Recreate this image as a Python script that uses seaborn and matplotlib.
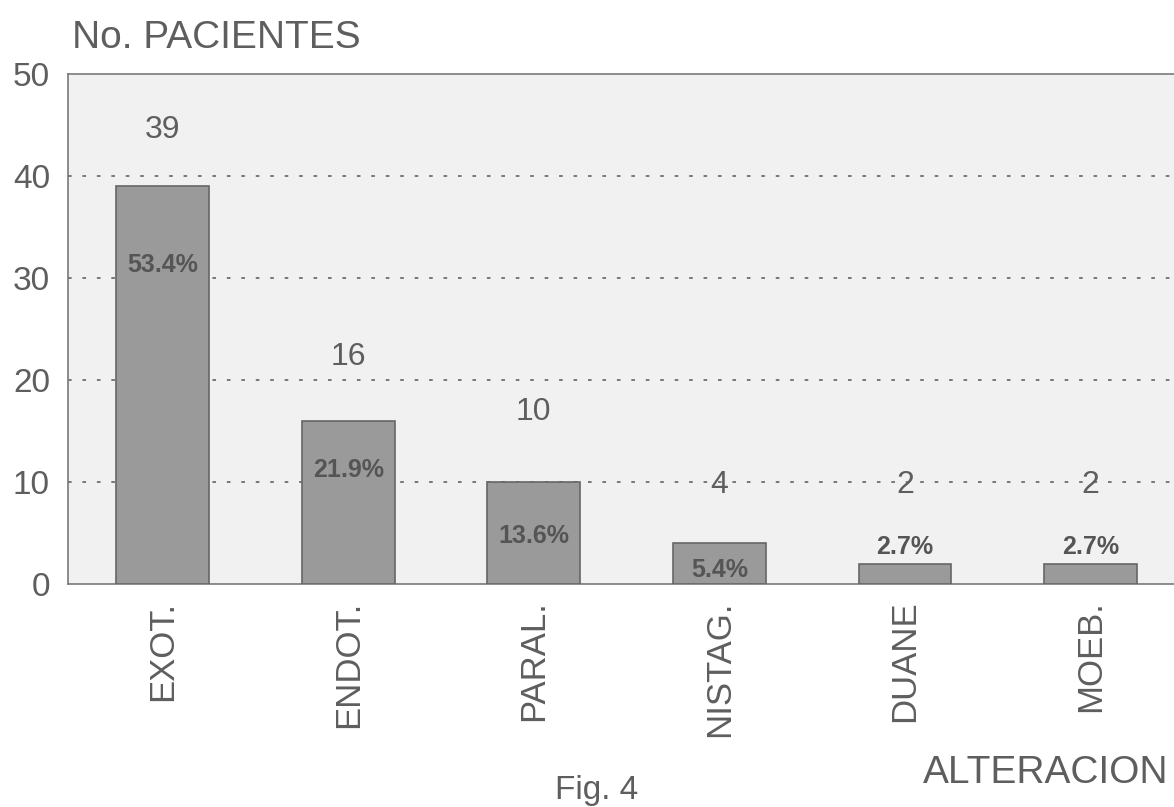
import pandas as pd
import numpy as np
import matplotlib.pyplot as plt
import seaborn as sns

# ==========================================
# Data
# ==========================================
categories = ['EXOT.', 'ENDOT.', 'PARAL.', 'NISTAG.', 'DUANE', 'MOEB.']
patients = [39, 16, 10, 4, 2, 2]
percent_labels = ['53.4%', '21.9%', '13.6%', '5.4%', '2.7%', '2.7%']

# label heights (layout only)
count_label_y = [44.5, 22.3, 16.9, 9.7, 9.7, 9.7]
pct_label_y = [31.3, 11.2, 4.7, 1.4, 3.6, 3.6]

TEXT_GRAY = '#5e5e5e'

sns.set_theme(style='white')
plt.rcParams['font.family'] = ['Liberation Sans', 'DejaVu Sans']

df = pd.DataFrame({'Alteracion': categories, 'Pacientes': patients})

fig = plt.figure(figsize=(11.74, 8.07), dpi=100)
ax = fig.add_axes([68 / 1174, 1 - 584 / 807, 1 - 68 / 1174, (584 - 74) / 807])
ax.set_facecolor('#f1f1f1')

sns.barplot(data=df, x='Alteracion', y='Pacientes', color='#9a9a9a',
            saturation=1, width=0.5, edgecolor='#666666', linewidth=1.2,
            ax=ax, zorder=3)

ax.set_ylim(0, 50)
ax.set_xlim(-0.51, 5.45)
ax.set_yticks([0, 10, 20, 30, 40, 50])
for yv in [10, 20, 30, 40]:
    ax.axhline(yv, color='#6e6e6e', linestyle=(0, (2, 6)), linewidth=1.3, zorder=1)

ax.tick_params(axis='y', length=0, pad=13, labelsize=24, labelcolor=TEXT_GRAY)
ax.tick_params(axis='x', length=0, pad=12, labelsize=25, labelcolor=TEXT_GRAY)
plt.setp(ax.get_xticklabels(), rotation=90, va='top', ha='center')
ax.set_xlabel('')
ax.set_ylabel('')

for side in ['left', 'bottom', 'top']:
    ax.spines[side].set_color('#7a7a7a')
    ax.spines[side].set_linewidth(1.2)
ax.spines['right'].set_visible(False)

for i, (n, pct) in enumerate(zip(patients, percent_labels)):
    ax.text(i, count_label_y[i], str(n), ha='center', va='center',
            fontsize=23, color=TEXT_GRAY, zorder=4)
    ax.text(i, pct_label_y[i], pct, ha='center', va='center',
            fontsize=18, color='#555555', fontweight='bold', zorder=4)

fig.text(72 / 1174, 1 - 38 / 807, 'No. PACIENTES', fontsize=28,
         color=TEXT_GRAY, ha='left', va='center')
fig.text(1168 / 1174, 1 - 773 / 807, 'ALTERACION', fontsize=28,
         color=TEXT_GRAY, ha='right', va='center')
fig.text(555 / 1174, 1 / 807, 'Fig. 4', fontsize=24,
         color=TEXT_GRAY, ha='left', va='bottom')

fig.savefig('out.png', dpi=100)
